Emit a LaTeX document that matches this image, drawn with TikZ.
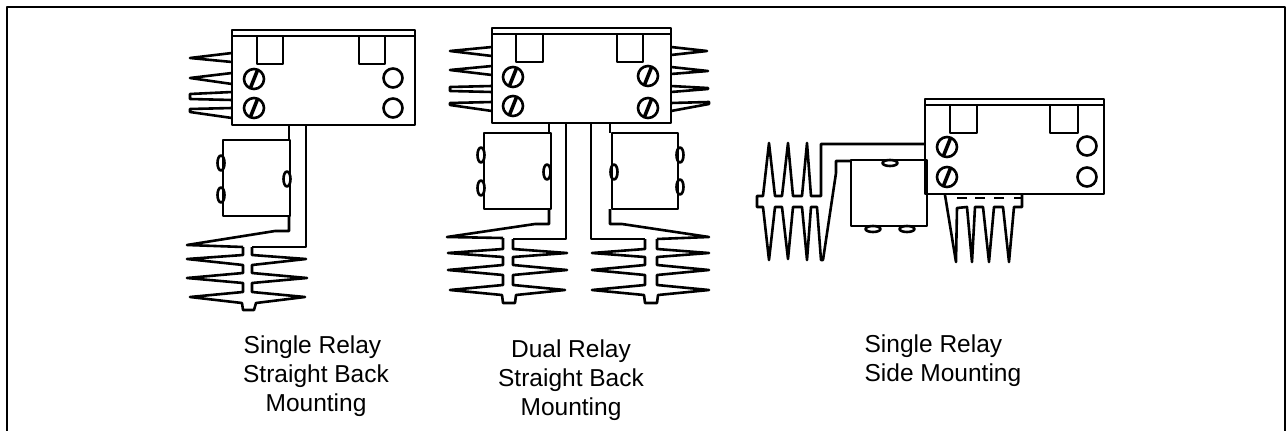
\documentclass[tikz,border=0pt]{standalone}
\usepackage{fontspec}
\setmainfont{Liberation Sans}
\usetikzlibrary{shapes.geometric}

\begin{document}
\begin{tikzpicture}[x=1pt,y=-1pt,line width=2.6pt,line join=round,
  screw/.style={circle,draw,inner sep=0pt,minimum size=20pt,
    path picture={\draw[line width=3.6pt] ([xshift=-4pt,yshift=-10pt]path picture bounding box.center) -- ([xshift=4pt,yshift=10pt]path picture bounding box.center);}},
  hole/.style={circle,draw,inner sep=0pt,minimum size=19pt},
  bumpv/.style={ellipse,draw,inner sep=0pt,minimum width=7pt,minimum height=15pt},
  bumph/.style={ellipse,draw,inner sep=0pt,minimum width=15pt,minimum height=6pt},
  caption/.style={font=\fontsize{24.5pt}{29pt}\selectfont}]
\useasboundingbox (0,0) rectangle (1286,431);
\draw[line width=1.6pt] (7,431) -- (7,7) -- (1285,7) -- (1285,431);
% single relay, straight back
\draw (232,30) rectangle (415,125);
\draw (231,36) -- (415,36);
\draw (257,36) rectangle (283,64);
\draw (359,36) rectangle (385,64);
\node[screw] (s1a) at (254,79) {};
\node[screw] (s1b) at (254,108) {};
\node[hole] (h1a) at (393,78) {};
\node[hole] (h1b) at (393,108) {};
\draw (232,53) -- (190,58) -- (232,62);
\draw (232,73) -- (190,78) -- (232,84);
\draw (232,92) -- (190,94) -- (190,99) -- (232,100);
\draw (232,108) -- (190,109) -- (190,112) -- (232,118);
\draw (223,140) rectangle (290,216);
\node[bumpv] (b1a) at (221,163) {};
\node[bumpv] (b1b) at (221,195) {};
\node[bumpv] (b1c) at (287,179) {};
\draw (289,125) -- (289,140);
\draw (289,216) -- (289,231) -- (275,231) -- (187,245) -- (243,247);
\draw (306,125) -- (306,247) -- (252,247);
\draw (243,247) -- (243,255) -- (187,259) -- (243,265) -- (243,273) -- (187,278) -- (243,283) -- (243,292) -- (190,297) -- (242,303) -- (243,310) -- (254,310) -- (256,303) -- (305,297) -- (252,292) -- (252,283) -- (307,278) -- (252,273) -- (252,265) -- (306,259) -- (252,255) -- (252,247);
% dual relay, straight back
\draw (492,28) rectangle (671,123);
\draw (491,34) -- (671,34);
\draw (516,34) rectangle (543,62);
\draw (617,34) rectangle (643,62);
\node[screw] (s2a) at (513,77) {};
\node[screw] (s2b) at (513,106) {};
\node[screw] (s2c) at (648,76) {};
\node[screw] (s2d) at (648,108) {};
\draw (492,47) -- (450,51) -- (492,56);
\draw (492,66) -- (450,70) -- (492,75);
\draw (492,86) -- (450,87) -- (450,91) -- (492,92);
\draw (492,102) -- (450,103) -- (450,105) -- (492,111);
\draw (671,47) -- (707,51) -- (671,55);
\draw (671,67) -- (708,71) -- (671,74);
\draw (671,86) -- (708,88) -- (708,89) -- (671,92);
\draw (671,103) -- (709,102) -- (709,104) -- (671,111);
\draw (484,133) rectangle (551,209);
\node[bumpv] (b2a) at (481,155) {};
\node[bumpv] (b2b) at (481,188) {};
\node[bumpv] (b2c) at (547,172) {};
\draw (549,123) -- (549,133);
\draw (549,209) -- (549,224) -- (535,224) -- (447,237) -- (503,238);
\draw (566,123) -- (566,239) -- (513,239);
\draw (503,238) -- (503,249) -- (448,253) -- (503,257) -- (503,265) -- (448,270) -- (503,275) -- (503,285) -- (450,290) -- (502,295) -- (503,303) -- (515,303) -- (516,295) -- (565,290) -- (513,285) -- (513,275) -- (567,270) -- (513,265) -- (513,257) -- (567,253) -- (513,249) -- (513,239);
\draw (612,133) rectangle (678,209);
\node[bumpv] (b2d) at (680,155) {};
\node[bumpv] (b2e) at (680,187) {};
\node[bumpv] (b2f) at (614,172) {};
\draw (610,123) -- (610,133);
\draw (610,209) -- (610,224) -- (622,224) -- (709,237) -- (657,239);
\draw (591,123) -- (591,239) -- (645,239);
\draw (645,239) -- (645,249) -- (592,253) -- (645,257) -- (645,265) -- (592,270) -- (645,275) -- (645,285) -- (592,290) -- (644,295) -- (645,303) -- (657,303) -- (658,295) -- (709,290) -- (657,285) -- (657,275) -- (709,270) -- (657,265) -- (657,257) -- (709,253) -- (657,249) -- (657,239);
% single relay, side mounting
\draw (925,99) rectangle (1104,194);
\draw (924,105) -- (1104,105);
\draw (950,105) rectangle (977,133);
\draw (1050,105) rectangle (1078,133);
\node[screw] (s3a) at (947,147) {};
\node[screw] (s3b) at (947,177) {};
\node[hole] (h3a) at (1087,146) {};
\node[hole] (h3b) at (1087,177) {};
\draw (851,160) rectangle (927,226);
\node[bumph] (b3a) at (890,163) {};
\node[bumph] (b3b) at (873,229) {};
\node[bumph] (b3c) at (907,229) {};
\draw (925,144) -- (821,144) -- (821,196) -- (811,196) -- (807,143) -- (802,196) -- (793,196) -- (788,143) -- (782,196) -- (775,196) -- (769,143) -- (763,196) -- (757,196) -- (757,207) -- (763,207) -- (769,260) -- (775,207) -- (782,207) -- (788,259) -- (793,207) -- (802,207) -- (807,260) -- (811,207) -- (817,207) -- (821,260) -- (823,260) -- (836,173) -- (836,161) -- (851,161);
\draw (945,195) -- (956,262) -- (957,208) -- (967,207) -- (972,262) -- (975,207) -- (983,207) -- (989,262) -- (994,207) -- (1003,207) -- (1009,262) -- (1014,207) -- (1022,207) -- (1022,195);
\draw (957,198) -- (967,198);
\draw (975,198) -- (985,198);
\draw (994,198) -- (1004,198);
\draw (1014,198) -- (1022,198);
% captions
\node[caption,align=center] (c1) at (316,376) {\hspace*{-7pt}Single Relay\\Straight Back\\Mounting};
\node[caption,align=center] (c2) at (571,380) {Dual Relay\\Straight Back\\Mounting};
\node[caption,align=left,anchor=west] (c3) at (860,361) {Single Relay\\Side Mounting};
\end{tikzpicture}
\end{document}
